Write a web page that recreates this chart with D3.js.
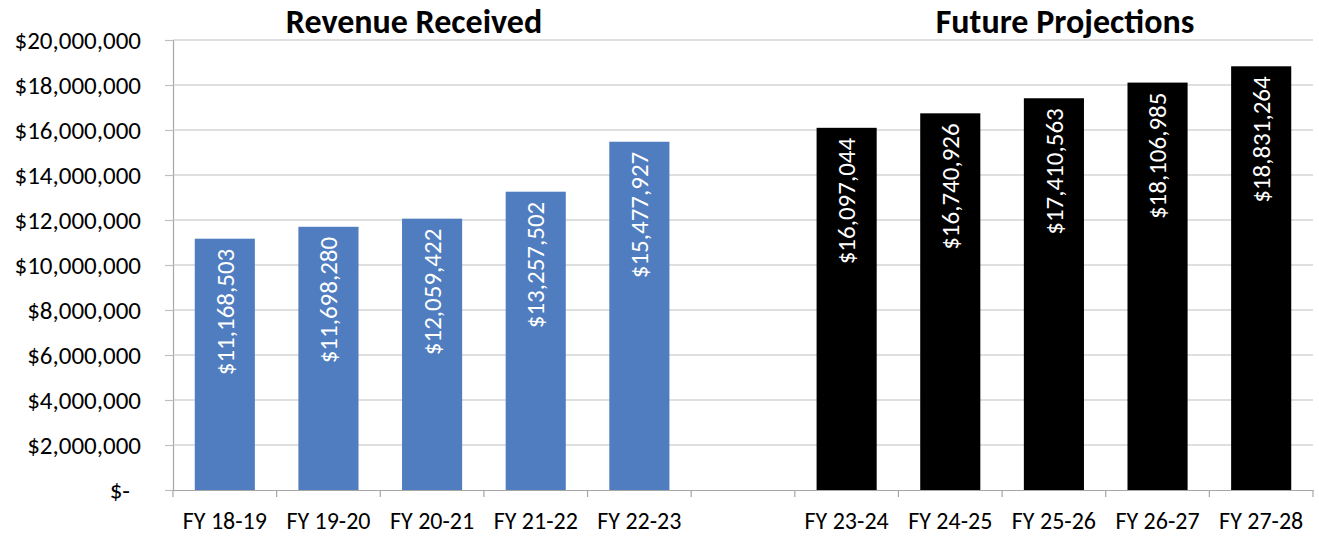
<!DOCTYPE html>
<html>
<head>
<meta charset="utf-8">
<script src="https://cdn.jsdelivr.net/npm/d3@7"></script>
<style>
  body { margin: 0; background: #fff; }
  svg text { font-family: Carlito, Calibri, Lato, sans-serif; }
</style>
</head>
<body>
<div id="chart"></div>
<script>
var categories = ['FY 18-19', 'FY 19-20', 'FY 20-21', 'FY 21-22', 'FY 22-23', '',
                  'FY 23-24', 'FY 24-25', 'FY 25-26', 'FY 26-27', 'FY 27-28'];
var received = [11168503, 11698280, 12059422, 13257502, 15477927];
var projected = [16097044, 16740926, 17410563, 18106985, 18831264];
var yTicks = [0, 2000000, 4000000, 6000000, 8000000, 10000000, 12000000, 14000000, 16000000, 18000000, 20000000];
var titles = ['Revenue Received', 'Future Projections'];

var width = 1319, height = 538;
var margin = {left: 173, right: 6, top: 40, bottom: 48};

var bars = received.map(function(v, i) { return {cat: categories[i], value: v, type: 'received'}; })
  .concat(projected.map(function(v, i) { return {cat: categories[i + 6], value: v, type: 'projected'}; }));

var svg = d3.select('#chart').append('svg')
  .attr('width', width)
  .attr('height', height);

var x = d3.scaleBand()
  .domain(d3.range(categories.length))
  .range([margin.left, width - margin.right])
  .paddingInner(0.42)
  .paddingOuter(0.21);

var xb = d3.scaleBand().domain(d3.range(categories.length)).range([margin.left, width - margin.right]);

var y = d3.scaleLinear().domain([0, 20000000]).range([height - margin.bottom, margin.top]);

function translate(a, b) { return 'translate(' + a + ',' + b + ')'; }

// gridlines + y labels
var yAxis = svg.append('g')
  .attr('transform', translate(margin.left, 0))
  .call(d3.axisLeft(y).tickValues(yTicks).tickSize(8).tickPadding(24)
    .tickFormat(function(d) { return d === 0 ? '$-' : '$' + d3.format(',')(d); }));
yAxis.select('.domain').attr('stroke', '#a6a6a6').attr('stroke-width', 1.2);
yAxis.selectAll('.tick line').attr('stroke', '#bfbfbf').attr('stroke-width', 1.2);
yAxis.selectAll('.tick text').attr('fill', '#000').style('font-size', '25px');
yAxis.selectAll('.tick text').filter(function(d) { return d === 0; }).attr('dx', -11);

svg.append('g').selectAll('line').data(yTicks.slice(1)).enter().append('line')
  .attr('x1', margin.left).attr('x2', width - margin.right)
  .attr('y1', function(d) { return y(d); }).attr('y2', function(d) { return y(d); })
  .attr('stroke', '#bfbfbf').attr('stroke-width', 1.2);

// x axis
var xAxis = svg.append('g')
  .attr('transform', translate(0, y(0)))
  .call(d3.axisBottom(xb).tickSize(0).tickPadding(22).tickFormat(function(i) { return categories[i]; }));
xAxis.select('.domain').attr('stroke', '#a6a6a6').attr('stroke-width', 1.2);
xAxis.selectAll('.tick text').attr('fill', '#000').style('font-size', '24px');

svg.append('g').selectAll('line').data(d3.range(categories.length + 1)).enter().append('line')
  .attr('x1', function(i) { return margin.left + i * xb.step(); })
  .attr('x2', function(i) { return margin.left + i * xb.step(); })
  .attr('y1', y(0)).attr('y2', y(0) + 7)
  .attr('stroke', '#a6a6a6').attr('stroke-width', 1.2);

// bars
svg.append('g').selectAll('rect').data(bars).enter().append('rect')
  .attr('x', function(d) { return x(categories.indexOf(d.cat)); })
  .attr('width', x.bandwidth())
  .attr('y', function(d) { return y(d.value); })
  .attr('height', function(d) { return y(0) - y(d.value); })
  .attr('fill', function(d) { return d.type === 'received' ? '#4f7dbf' : '#000'; });

// value labels
svg.append('g').selectAll('text').data(bars).enter().append('text')
  .attr('transform', function(d) {
    return translate(x(categories.indexOf(d.cat)) + x.bandwidth() / 2, y(d.value) + 10) + ' rotate(-90)';
  })
  .attr('text-anchor', 'end')
  .attr('dy', '0.35em')
  .attr('fill', '#fff')
  .style('font-size', '25px')
  .text(function(d) { return '$' + d3.format(',')(d.value); });

// titles
svg.append('g').selectAll('text').data(titles).enter().append('text')
  .attr('x', function(d, i) { return i === 0 ? 414 : 1065; })
  .attr('y', 33)
  .attr('text-anchor', 'middle')
  .style('font-size', '34px')
  .style('font-weight', 'bold')
  .text(function(d) { return d; });
</script>
</body>
</html>
